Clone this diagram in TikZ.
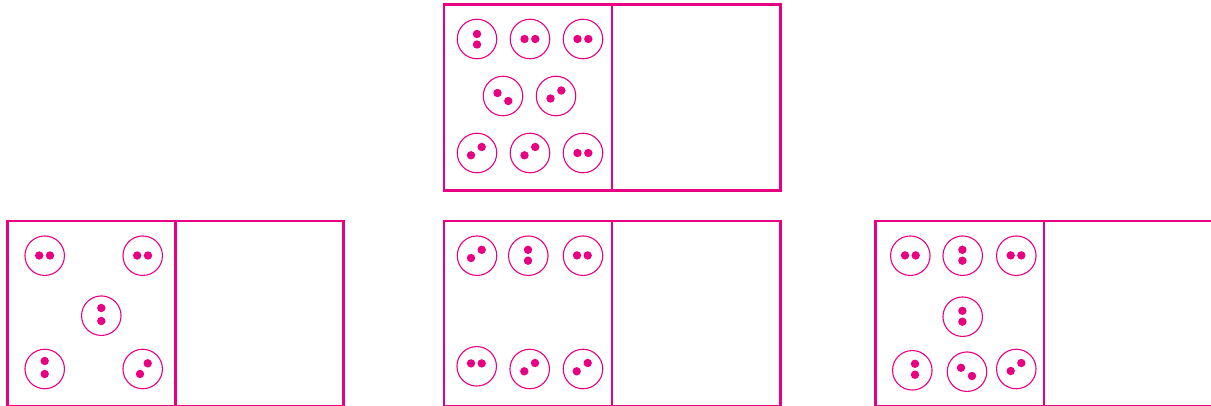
\documentclass[tikz,border=0pt]{standalone}
\definecolor{mag}{RGB}{232,0,130}
\tikzset{
  ring/.style={circle,draw=mag,line width=1.1pt,minimum size=39.5pt,inner sep=0pt},
  frame/.style={draw=mag,line width=2.6pt},
  dot/.style={fill=mag}
}
\newcommand{\cellx}[4]{\node[ring] (#1) at (#2) {};
  \fill[dot] (#3) circle[radius=4.2pt];
  \fill[dot] (#4) circle[radius=4.2pt];}
\begin{document}
\begin{tikzpicture}[x=1pt,y=-1pt]
\useasboundingbox (0,0) rectangle (1211,406);
\clip (0,0) rectangle (1211,406);
% top box
\draw[frame] (444,4.5) rectangle (780.7,190.5);
\draw[frame] (612,4.5) -- (612,190.5);
\cellx{t1}{477,39}{477,34}{477,44.5}
\cellx{t2}{530,39}{524.5,39}{535.3,39}
\cellx{t3}{583,39}{577.5,39}{588.3,39}
\cellx{t4}{503,96}{497.5,93}{508.3,101}
\cellx{t5}{556,96}{550.5,98.5}{561.3,90.5}
\cellx{t6}{477,153}{471,155.3}{481.7,147}
\cellx{t7}{530,153}{524.5,155.3}{535.2,147}
\cellx{t8}{583,153}{577.5,153}{588.3,153}
% bottom box 1
\draw[frame] (7.3,221) rectangle (343.5,406.3);
\draw[frame] (175.7,221) -- (175.7,406.3);
\cellx{a1}{44.7,255.7}{39.2,255.5}{50,255.5}
\cellx{a2}{142.7,255.7}{137.2,255.5}{148,255.5}
\cellx{a3}{101.3,315.7}{101.3,308}{101.3,321}
\cellx{a4}{44.7,369}{44.7,361}{44.7,374}
\cellx{a5}{142.7,369}{140,374}{147.7,363.3}
% bottom box 2
\draw[frame] (444,221) rectangle (780.7,406.3);
\draw[frame] (612,221) -- (612,406.3);
\cellx{b1}{477,255.7}{471,258}{481.7,249.8}
\cellx{b2}{528.3,255.7}{528,249.8}{528,260.7}
\cellx{b3}{583,255.7}{577,255.4}{587.7,255.4}
\cellx{b4}{476.7,366.3}{471,363.4}{481.7,363.4}
\cellx{b5}{529.7,369}{524.3,371.3}{535,363}
\cellx{b6}{583,369}{576.7,371.3}{587.7,363}
% bottom box 3
\draw[frame] (875.5,221) rectangle (1213,406.3);
\draw[frame] (1044,221) -- (1044,406.3);
\cellx{c1}{910.3,255.7}{905,255.4}{915.7,255.4}
\cellx{c2}{962.7,255.7}{962.4,249.8}{962.4,260.7}
\cellx{c3}{1016.3,255.7}{1010.7,255.4}{1021.3,255.4}
\cellx{c4}{962.7,316.7}{962.4,310.8}{962.4,321.7}
\cellx{c5}{912.3,370.3}{915,363.8}{915,374.7}
\cellx{c6}{967,371.7}{961,367.8}{972,376}
\cellx{c7}{1016.3,369}{1010.7,371}{1021.3,363}
\end{tikzpicture}
\end{document}
